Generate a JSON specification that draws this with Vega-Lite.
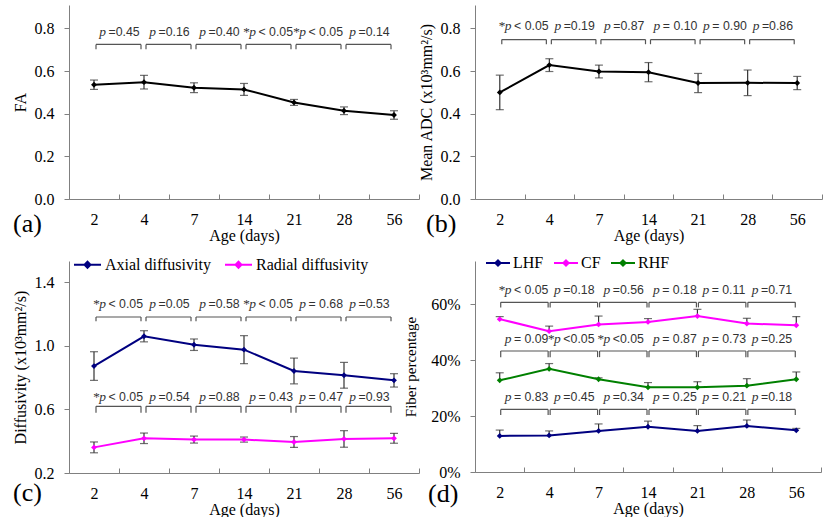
{
"$schema":"https://vega.github.io/schema/vega-lite/v6.json",
"padding":{"left":12,"top":5,"right":2,"bottom":0},
"background":"white",
"resolve":{"scale":{"color":"independent","x":"independent","y":"independent"},"legend":{"color":"independent"}},
"config":{"view":{"stroke":null},
 "axis":{"labelFont":"Liberation Serif","titleFont":"Liberation Serif","labelFontSize":16,"titleFontSize":16,"titleFontWeight":"normal","labelColor":"black","titleColor":"black","domainColor":"#808080","tickColor":"#808080","grid":false},
 "axisX":{"tickBand":"extent","tickSize":-5,"labelPadding":17,"titlePadding":0,"labelAngle":0},
 "axisY":{"tickSize":5,"labelPadding":10,"titlePadding":6}},
"datasets":{
"fa":[{"age":"2","v":0.536,"lo":0.514,"hi":0.558},{"age":"4","v":0.548,"lo":0.516,"hi":0.580},{"age":"7","v":0.522,"lo":0.499,"hi":0.545},{"age":"14","v":0.514,"lo":0.486,"hi":0.542},{"age":"21","v":0.453,"lo":0.439,"hi":0.467},{"age":"28","v":0.414,"lo":0.396,"hi":0.432},{"age":"56","v":0.394,"lo":0.374,"hi":0.414}],
"adc":[{"age":"2","v":0.500,"lo":0.419,"hi":0.581},{"age":"4","v":0.628,"lo":0.598,"hi":0.658},{"age":"7","v":0.598,"lo":0.568,"hi":0.628},{"age":"14","v":0.595,"lo":0.550,"hi":0.640},{"age":"21","v":0.544,"lo":0.499,"hi":0.589},{"age":"28","v":0.545,"lo":0.485,"hi":0.605},{"age":"56","v":0.544,"lo":0.513,"hi":0.575}],
"diff":[{"age":"2","series":"Axial diffusivity","v":0.872,"lo":0.782,"hi":0.962},{"age":"4","series":"Axial diffusivity","v":1.059,"lo":1.024,"hi":1.094},{"age":"7","series":"Axial diffusivity","v":1.006,"lo":0.970,"hi":1.042},{"age":"14","series":"Axial diffusivity","v":0.975,"lo":0.887,"hi":1.063},{"age":"21","series":"Axial diffusivity","v":0.841,"lo":0.760,"hi":0.922},{"age":"28","series":"Axial diffusivity","v":0.814,"lo":0.733,"hi":0.895},{"age":"56","series":"Axial diffusivity","v":0.782,"lo":0.740,"hi":0.824},
{"age":"2","series":"Radial diffusivity","v":0.361,"lo":0.327,"hi":0.395},{"age":"4","series":"Radial diffusivity","v":0.418,"lo":0.385,"hi":0.451},{"age":"7","series":"Radial diffusivity","v":0.410,"lo":0.388,"hi":0.432},{"age":"14","series":"Radial diffusivity","v":0.410,"lo":0.394,"hi":0.426},{"age":"21","series":"Radial diffusivity","v":0.395,"lo":0.361,"hi":0.429},{"age":"28","series":"Radial diffusivity","v":0.414,"lo":0.362,"hi":0.466},{"age":"56","series":"Radial diffusivity","v":0.418,"lo":0.387,"hi":0.449}],
"fiber":[{"age":"2","series":"LHF","v":12.9,"hi":15.0},{"age":"4","series":"LHF","v":13.1,"hi":14.7},{"age":"7","series":"LHF","v":14.7,"hi":17.2},{"age":"14","series":"LHF","v":16.2,"hi":18.2},{"age":"21","series":"LHF","v":14.7,"hi":16.6},{"age":"28","series":"LHF","v":16.5,"hi":18.6},{"age":"56","series":"LHF","v":14.9,"hi":15.6},
{"age":"2","series":"CF","v":54.7,"hi":55.6},{"age":"4","series":"CF","v":50.4,"hi":52.2},{"age":"7","series":"CF","v":52.8,"hi":55.8},{"age":"14","series":"CF","v":53.7,"hi":54.9},{"age":"21","series":"CF","v":55.8,"hi":58.2},{"age":"28","series":"CF","v":53.1,"hi":55.0},{"age":"56","series":"CF","v":52.5,"hi":55.6},
{"age":"2","series":"RHF","v":32.8,"hi":35.5},{"age":"4","series":"RHF","v":36.9,"hi":38.8},{"age":"7","series":"RHF","v":33.2,"hi":33.7},{"age":"14","series":"RHF","v":30.3,"hi":32.0},{"age":"21","series":"RHF","v":30.3,"hi":32.3},{"age":"28","series":"RHF","v":30.9,"hi":33.4},{"age":"56","series":"RHF","v":33.2,"hi":35.8}],
"pa":[{"from":"2","to":"4","pre":"p","suf":"=0.45"},{"from":"4","to":"7","pre":"p","suf":"=0.16"},{"from":"7","to":"14","pre":"p","suf":"=0.40"},{"from":"14","to":"21","pre":"*p","suf":"< 0.05"},{"from":"21","to":"28","pre":"*p","suf":"< 0.05"},{"from":"28","to":"56","pre":"p","suf":"=0.14"}],
"pb":[{"from":"2","to":"4","pre":"*p","suf":"< 0.05"},{"from":"4","to":"7","pre":"p","suf":"=0.19"},{"from":"7","to":"14","pre":"p","suf":"=0.87"},{"from":"14","to":"21","pre":"p","suf":"= 0.10"},{"from":"21","to":"28","pre":"p","suf":"= 0.90"},{"from":"28","to":"56","pre":"p","suf":"=0.86"}],
"pc1":[{"from":"2","to":"4","pre":"*p","suf":"< 0.05"},{"from":"4","to":"7","pre":"p","suf":"=0.05"},{"from":"7","to":"14","pre":"p","suf":"=0.58"},{"from":"14","to":"21","pre":"*p","suf":"< 0.05"},{"from":"21","to":"28","pre":"p","suf":"= 0.68"},{"from":"28","to":"56","pre":"p","suf":"=0.53"}],
"pc2":[{"from":"2","to":"4","pre":"*p","suf":"< 0.05"},{"from":"4","to":"7","pre":"p","suf":"=0.54"},{"from":"7","to":"14","pre":"p","suf":"=0.88"},{"from":"14","to":"21","pre":"p","suf":"= 0.43"},{"from":"21","to":"28","pre":"p","suf":"= 0.47"},{"from":"28","to":"56","pre":"p","suf":"=0.93"}],
"pd1":[{"from":"2","to":"4","pre":"*p","suf":"< 0.05"},{"from":"4","to":"7","pre":"p","suf":"=0.18"},{"from":"7","to":"14","pre":"p","suf":"=0.56"},{"from":"14","to":"21","pre":"p","suf":"= 0.18"},{"from":"21","to":"28","pre":"p","suf":"= 0.11"},{"from":"28","to":"56","pre":"p","suf":"=0.71"}],
"pd2":[{"from":"2","to":"4","pre":"p","suf":"= 0.09"},{"from":"4","to":"7","pre":"*p","suf":"<0.05"},{"from":"7","to":"14","pre":"*p","suf":"<0.05"},{"from":"14","to":"21","pre":"p","suf":"= 0.87"},{"from":"21","to":"28","pre":"p","suf":"= 0.73"},{"from":"28","to":"56","pre":"p","suf":"=0.25"}],
"pd3":[{"from":"2","to":"4","pre":"p","suf":"= 0.83"},{"from":"4","to":"7","pre":"p","suf":"=0.45"},{"from":"7","to":"14","pre":"p","suf":"=0.34"},{"from":"14","to":"21","pre":"p","suf":"= 0.25"},{"from":"21","to":"28","pre":"p","suf":"= 0.21"},{"from":"28","to":"56","pre":"p","suf":"=0.18"}]
},
"columns":2,
"spacing":{"row":62,"column":56},
"bounds":"flush",
"concat":[
{"width":350,"height":194,
 "title":{"text":"(a)","orient":"bottom","anchor":"start","frame":"group","dx":-56,"dy":-36,"font":"Liberation Serif","fontSize":26,"fontWeight":"normal","color":"black"},
 "layer":[
 {"data":{"name":"fa"},"mark":{"type":"rule","color":"#333","strokeWidth":1.2},"encoding":{"x":{"field":"age","type":"ordinal","sort":null,"bandPosition":0.5,"scale":{"type":"band","domain":["2","4","7","14","21","28","56"],"paddingInner":0,"paddingOuter":0},"axis":{"title":"Age (days)"}},"y":{"field":"lo","type":"quantitative","scale":{"domain":[0,0.91],"nice":false,"zero":false},"axis":{"title":"FA","values":[0,0.2,0.4,0.6,0.8],"format":".1f"}},"y2":{"field":"hi"}}},
 {"data":{"name":"fa"},"mark":{"type":"tick","color":"#333","thickness":1.2,"size":8},"encoding":{"x":{"field":"age","type":"ordinal","bandPosition":0.5},"y":{"field":"hi","type":"quantitative"}}},
 {"data":{"name":"fa"},"mark":{"type":"tick","color":"#333","thickness":1.2,"size":8},"encoding":{"x":{"field":"age","type":"ordinal","bandPosition":0.5},"y":{"field":"lo","type":"quantitative"}}},
 {"data":{"name":"fa"},"mark":{"type":"line","color":"black","strokeWidth":2},"encoding":{"x":{"field":"age","type":"ordinal","bandPosition":0.5},"y":{"field":"v","type":"quantitative"}}},
 {"data":{"name":"fa"},"mark":{"type":"point","shape":"diamond","filled":true,"size":34,"color":"black","opacity":1},"encoding":{"x":{"field":"age","type":"ordinal","bandPosition":0.5},"y":{"field":"v","type":"quantitative"}}},
 {"data":{"name":"pa"},"mark":{"type":"rule","color":"#555","strokeWidth":1.2,"xOffset":2,"x2Offset":-3},"encoding":{"x":{"field":"from","type":"ordinal","bandPosition":0.5},"x2":{"field":"to","bandPosition":0.5},"y":{"datum":0.725}}},
 {"data":{"name":"pa"},"mark":{"type":"rule","color":"#555","strokeWidth":1.2,"xOffset":2},"encoding":{"x":{"field":"from","type":"ordinal","bandPosition":0.5},"y":{"datum":0.725},"y2":{"datum":0.703}}},
 {"data":{"name":"pa"},"mark":{"type":"rule","color":"#555","strokeWidth":1.2,"xOffset":-3},"encoding":{"x":{"field":"to","type":"ordinal","bandPosition":0.5},"y":{"datum":0.725},"y2":{"datum":0.703}}},
 {"data":{"name":"pa"},"mark":{"type":"text","font":"Liberation Serif","fontStyle":"italic","fontSize":13.5,"align":"right","baseline":"middle","dx":-13,"color":"#333"},"encoding":{"x":{"field":"from","type":"ordinal","bandPosition":1},"y":{"datum":0.783},"text":{"field":"pre"}}},
 {"data":{"name":"pa"},"mark":{"type":"text","font":"Liberation Sans","fontSize":12.3,"align":"left","baseline":"middle","dx":-10.5,"color":"#333"},"encoding":{"x":{"field":"from","type":"ordinal","bandPosition":1},"y":{"datum":0.783},"text":{"field":"suf"}}}
 ]},
{"width":347,"height":194,
 "title":{"text":"(b)","orient":"bottom","anchor":"start","frame":"group","dx":-49,"dy":-36,"font":"Liberation Serif","fontSize":26,"fontWeight":"normal","color":"black"},
 "layer":[
 {"data":{"name":"adc"},"mark":{"type":"rule","color":"#333","strokeWidth":1.2},"encoding":{"x":{"field":"age","type":"ordinal","sort":null,"bandPosition":0.5,"scale":{"type":"band","domain":["2","4","7","14","21","28","56"],"paddingInner":0,"paddingOuter":0},"axis":{"title":"Age (days)"}},"y":{"field":"lo","type":"quantitative","scale":{"domain":[0,0.91],"nice":false,"zero":false},"axis":{"title":"Mean ADC (x10³mm²/s)","values":[0,0.2,0.4,0.6,0.8],"format":".1f"}},"y2":{"field":"hi"}}},
 {"data":{"name":"adc"},"mark":{"type":"tick","color":"#333","thickness":1.2,"size":8},"encoding":{"x":{"field":"age","type":"ordinal","bandPosition":0.5},"y":{"field":"hi","type":"quantitative"}}},
 {"data":{"name":"adc"},"mark":{"type":"tick","color":"#333","thickness":1.2,"size":8},"encoding":{"x":{"field":"age","type":"ordinal","bandPosition":0.5},"y":{"field":"lo","type":"quantitative"}}},
 {"data":{"name":"adc"},"mark":{"type":"line","color":"black","strokeWidth":2},"encoding":{"x":{"field":"age","type":"ordinal","bandPosition":0.5},"y":{"field":"v","type":"quantitative"}}},
 {"data":{"name":"adc"},"mark":{"type":"point","shape":"diamond","filled":true,"size":34,"color":"black","opacity":1},"encoding":{"x":{"field":"age","type":"ordinal","bandPosition":0.5},"y":{"field":"v","type":"quantitative"}}},
 {"data":{"name":"pb"},"mark":{"type":"rule","color":"#555","strokeWidth":1.2,"xOffset":2,"x2Offset":-3},"encoding":{"x":{"field":"from","type":"ordinal","bandPosition":0.5},"x2":{"field":"to","bandPosition":0.5},"y":{"datum":0.748}}},
 {"data":{"name":"pb"},"mark":{"type":"rule","color":"#555","strokeWidth":1.2,"xOffset":2},"encoding":{"x":{"field":"from","type":"ordinal","bandPosition":0.5},"y":{"datum":0.748},"y2":{"datum":0.726}}},
 {"data":{"name":"pb"},"mark":{"type":"rule","color":"#555","strokeWidth":1.2,"xOffset":-3},"encoding":{"x":{"field":"to","type":"ordinal","bandPosition":0.5},"y":{"datum":0.748},"y2":{"datum":0.726}}},
 {"data":{"name":"pb"},"mark":{"type":"text","font":"Liberation Serif","fontStyle":"italic","fontSize":13.5,"align":"right","baseline":"middle","dx":-13,"color":"#333"},"encoding":{"x":{"field":"from","type":"ordinal","bandPosition":1},"y":{"datum":0.812},"text":{"field":"pre"}}},
 {"data":{"name":"pb"},"mark":{"type":"text","font":"Liberation Sans","fontSize":12.3,"align":"left","baseline":"middle","dx":-10.5,"color":"#333"},"encoding":{"x":{"field":"from","type":"ordinal","bandPosition":1},"y":{"datum":0.812},"text":{"field":"suf"}}}
 ]},
{"width":350,"height":212,
 "title":{"text":"(c)","orient":"bottom","anchor":"start","frame":"group","dx":-56,"dy":-41,"font":"Liberation Serif","fontSize":26,"fontWeight":"normal","color":"black"},
 "layer":[
 {"data":{"name":"diff"},"mark":{"type":"rule","color":"#333","strokeWidth":1.2},"encoding":{"x":{"field":"age","type":"ordinal","sort":null,"bandPosition":0.5,"scale":{"type":"band","domain":["2","4","7","14","21","28","56"],"paddingInner":0,"paddingOuter":0},"axis":{"title":"Age (days)"}},"y":{"field":"lo","type":"quantitative","scale":{"domain":[0.2,1.532],"nice":false,"zero":false},"axis":{"title":"Diffusivity (x10³mm²/s)","values":[0.2,0.6,1.0,1.4],"format":".1f"}},"y2":{"field":"hi"}}},
 {"data":{"name":"diff"},"mark":{"type":"tick","color":"#333","thickness":1.2,"size":8},"encoding":{"x":{"field":"age","type":"ordinal","bandPosition":0.5},"y":{"field":"hi","type":"quantitative"}}},
 {"data":{"name":"diff"},"mark":{"type":"tick","color":"#333","thickness":1.2,"size":8},"encoding":{"x":{"field":"age","type":"ordinal","bandPosition":0.5},"y":{"field":"lo","type":"quantitative"}}},
 {"data":{"name":"diff"},"mark":{"type":"line","strokeWidth":2},"encoding":{"x":{"field":"age","type":"ordinal","bandPosition":0.5},"y":{"field":"v","type":"quantitative"},"color":{"field":"series","type":"nominal","scale":{"domain":["Axial diffusivity","Radial diffusivity"],"range":["#000080","#FF00FF"]},"legend":{"orient":"none","legendX":4,"legendY":-11,"direction":"horizontal","title":null,"symbolType":"M-1,0H1M0,-0.22L0.22,0L0,0.22L-0.22,0Z","symbolSize":729,"symbolStrokeWidth":2,"labelFont":"Liberation Serif","labelFontSize":16,"labelColor":"black","columnPadding":10,"labelOffset":3}}}},
 {"data":{"name":"diff"},"mark":{"type":"point","shape":"diamond","filled":true,"size":34,"opacity":1},"encoding":{"x":{"field":"age","type":"ordinal","bandPosition":0.5},"y":{"field":"v","type":"quantitative"},"color":{"field":"series","type":"nominal"}}},
 {"data":{"name":"pc1"},"mark":{"type":"rule","color":"#555","strokeWidth":1.2,"xOffset":2,"x2Offset":-3},"encoding":{"x":{"field":"from","type":"ordinal","bandPosition":0.5},"x2":{"field":"to","bandPosition":0.5},"y":{"datum":1.18}}},
 {"data":{"name":"pc1"},"mark":{"type":"rule","color":"#555","strokeWidth":1.2,"xOffset":2},"encoding":{"x":{"field":"from","type":"ordinal","bandPosition":0.5},"y":{"datum":1.18},"y2":{"datum":1.153}}},
 {"data":{"name":"pc1"},"mark":{"type":"rule","color":"#555","strokeWidth":1.2,"xOffset":-3},"encoding":{"x":{"field":"to","type":"ordinal","bandPosition":0.5},"y":{"datum":1.18},"y2":{"datum":1.153}}},
 {"data":{"name":"pc1"},"mark":{"type":"text","font":"Liberation Serif","fontStyle":"italic","fontSize":13.5,"align":"right","baseline":"middle","dx":-13,"color":"#333"},"encoding":{"x":{"field":"from","type":"ordinal","bandPosition":1},"y":{"datum":1.264},"text":{"field":"pre"}}},
 {"data":{"name":"pc1"},"mark":{"type":"text","font":"Liberation Sans","fontSize":12.3,"align":"left","baseline":"middle","dx":-10.5,"color":"#333"},"encoding":{"x":{"field":"from","type":"ordinal","bandPosition":1},"y":{"datum":1.264},"text":{"field":"suf"}}},
 {"data":{"name":"pc2"},"mark":{"type":"rule","color":"#555","strokeWidth":1.2,"xOffset":2,"x2Offset":-3},"encoding":{"x":{"field":"from","type":"ordinal","bandPosition":0.5},"x2":{"field":"to","bandPosition":0.5},"y":{"datum":0.619}}},
 {"data":{"name":"pc2"},"mark":{"type":"rule","color":"#555","strokeWidth":1.2,"xOffset":2},"encoding":{"x":{"field":"from","type":"ordinal","bandPosition":0.5},"y":{"datum":0.619},"y2":{"datum":0.578}}},
 {"data":{"name":"pc2"},"mark":{"type":"rule","color":"#555","strokeWidth":1.2,"xOffset":-3},"encoding":{"x":{"field":"to","type":"ordinal","bandPosition":0.5},"y":{"datum":0.619},"y2":{"datum":0.578}}},
 {"data":{"name":"pc2"},"mark":{"type":"text","font":"Liberation Serif","fontStyle":"italic","fontSize":13.5,"align":"right","baseline":"middle","dx":-13,"color":"#333"},"encoding":{"x":{"field":"from","type":"ordinal","bandPosition":1},"y":{"datum":0.677},"text":{"field":"pre"}}},
 {"data":{"name":"pc2"},"mark":{"type":"text","font":"Liberation Sans","fontSize":12.3,"align":"left","baseline":"middle","dx":-10.5,"color":"#333"},"encoding":{"x":{"field":"from","type":"ordinal","bandPosition":1},"y":{"datum":0.677},"text":{"field":"suf"}}}
 ]},
{"width":346,"height":211,
 "title":{"text":"(d)","orient":"bottom","anchor":"start","frame":"group","dx":-47,"dy":-39,"font":"Liberation Serif","fontSize":26,"fontWeight":"normal","color":"black"},
 "layer":[
 {"data":{"name":"fiber"},"mark":{"type":"rule","color":"#333","strokeWidth":1.2},"encoding":{"x":{"field":"age","type":"ordinal","sort":null,"bandPosition":0.5,"scale":{"type":"band","domain":["2","4","7","14","21","28","56"],"paddingInner":0,"paddingOuter":0},"axis":{"title":"Age (days)"}},"y":{"field":"v","type":"quantitative","scale":{"domain":[0,75.5],"nice":false,"zero":false},"axis":{"title":"Fiber percentage","titlePadding":12,"titleFontSize":15,"values":[0,20,40,60],"labelExpr":"datum.value + '%'"}},"y2":{"field":"hi"}}},
 {"data":{"name":"fiber"},"mark":{"type":"tick","color":"#333","thickness":1.2,"size":8},"encoding":{"x":{"field":"age","type":"ordinal","bandPosition":0.5},"y":{"field":"hi","type":"quantitative"}}},
 {"data":{"name":"fiber"},"mark":{"type":"line","strokeWidth":2},"encoding":{"x":{"field":"age","type":"ordinal","bandPosition":0.5},"y":{"field":"v","type":"quantitative"},"color":{"field":"series","type":"nominal","scale":{"domain":["LHF","CF","RHF"],"range":["#000080","#FF00FF","#008000"]},"legend":{"orient":"none","legendX":10,"legendY":-11,"direction":"horizontal","title":null,"symbolType":"M-1,0H1M0,-0.22L0.22,0L0,0.22L-0.22,0Z","symbolSize":576,"symbolStrokeWidth":2,"labelFont":"Liberation Serif","labelFontSize":16,"labelColor":"black","columnPadding":6,"labelOffset":2}}}},
 {"data":{"name":"fiber"},"mark":{"type":"point","shape":"diamond","filled":true,"size":34,"opacity":1},"encoding":{"x":{"field":"age","type":"ordinal","bandPosition":0.5},"y":{"field":"v","type":"quantitative"},"color":{"field":"series","type":"nominal"}}},
 {"data":{"name":"pd1"},"mark":{"type":"rule","color":"#555","strokeWidth":1.2,"xOffset":1,"x2Offset":-1},"encoding":{"x":{"field":"from","type":"ordinal","bandPosition":0.5},"x2":{"field":"to","bandPosition":0.5},"y":{"datum":60.7}}},
 {"data":{"name":"pd1"},"mark":{"type":"rule","color":"#555","strokeWidth":1.2,"xOffset":1},"encoding":{"x":{"field":"from","type":"ordinal","bandPosition":0.5},"y":{"datum":60.7},"y2":{"datum":58.9}}},
 {"data":{"name":"pd1"},"mark":{"type":"rule","color":"#555","strokeWidth":1.2,"xOffset":-1},"encoding":{"x":{"field":"to","type":"ordinal","bandPosition":0.5},"y":{"datum":60.7},"y2":{"datum":58.9}}},
 {"data":{"name":"pd1"},"mark":{"type":"text","font":"Liberation Serif","fontStyle":"italic","fontSize":13.5,"align":"right","baseline":"middle","dx":-13,"color":"#333"},"encoding":{"x":{"field":"from","type":"ordinal","bandPosition":1},"y":{"datum":65.1},"text":{"field":"pre"}}},
 {"data":{"name":"pd1"},"mark":{"type":"text","font":"Liberation Sans","fontSize":12.3,"align":"left","baseline":"middle","dx":-10.5,"color":"#333"},"encoding":{"x":{"field":"from","type":"ordinal","bandPosition":1},"y":{"datum":65.1},"text":{"field":"suf"}}},
 {"data":{"name":"pd2"},"mark":{"type":"rule","color":"#555","strokeWidth":1.2,"xOffset":1,"x2Offset":-1},"encoding":{"x":{"field":"from","type":"ordinal","bandPosition":0.5},"x2":{"field":"to","bandPosition":0.5},"y":{"datum":43.3}}},
 {"data":{"name":"pd2"},"mark":{"type":"rule","color":"#555","strokeWidth":1.2,"xOffset":1},"encoding":{"x":{"field":"from","type":"ordinal","bandPosition":0.5},"y":{"datum":43.3},"y2":{"datum":41.1}}},
 {"data":{"name":"pd2"},"mark":{"type":"rule","color":"#555","strokeWidth":1.2,"xOffset":-1},"encoding":{"x":{"field":"to","type":"ordinal","bandPosition":0.5},"y":{"datum":43.3},"y2":{"datum":41.1}}},
 {"data":{"name":"pd2"},"mark":{"type":"text","font":"Liberation Serif","fontStyle":"italic","fontSize":13.5,"align":"right","baseline":"middle","dx":-13,"color":"#333"},"encoding":{"x":{"field":"from","type":"ordinal","bandPosition":1},"y":{"datum":47.5},"text":{"field":"pre"}}},
 {"data":{"name":"pd2"},"mark":{"type":"text","font":"Liberation Sans","fontSize":12.3,"align":"left","baseline":"middle","dx":-10.5,"color":"#333"},"encoding":{"x":{"field":"from","type":"ordinal","bandPosition":1},"y":{"datum":47.5},"text":{"field":"suf"}}},
 {"data":{"name":"pd3"},"mark":{"type":"rule","color":"#555","strokeWidth":1.2,"xOffset":1,"x2Offset":-1},"encoding":{"x":{"field":"from","type":"ordinal","bandPosition":0.5},"x2":{"field":"to","bandPosition":0.5},"y":{"datum":22.4}}},
 {"data":{"name":"pd3"},"mark":{"type":"rule","color":"#555","strokeWidth":1.2,"xOffset":1},"encoding":{"x":{"field":"from","type":"ordinal","bandPosition":0.5},"y":{"datum":22.4},"y2":{"datum":20.4}}},
 {"data":{"name":"pd3"},"mark":{"type":"rule","color":"#555","strokeWidth":1.2,"xOffset":-1},"encoding":{"x":{"field":"to","type":"ordinal","bandPosition":0.5},"y":{"datum":22.4},"y2":{"datum":20.4}}},
 {"data":{"name":"pd3"},"mark":{"type":"text","font":"Liberation Serif","fontStyle":"italic","fontSize":13.5,"align":"right","baseline":"middle","dx":-13,"color":"#333"},"encoding":{"x":{"field":"from","type":"ordinal","bandPosition":1},"y":{"datum":26.9},"text":{"field":"pre"}}},
 {"data":{"name":"pd3"},"mark":{"type":"text","font":"Liberation Sans","fontSize":12.3,"align":"left","baseline":"middle","dx":-10.5,"color":"#333"},"encoding":{"x":{"field":"from","type":"ordinal","bandPosition":1},"y":{"datum":26.9},"text":{"field":"suf"}}}
 ]}
]
}
